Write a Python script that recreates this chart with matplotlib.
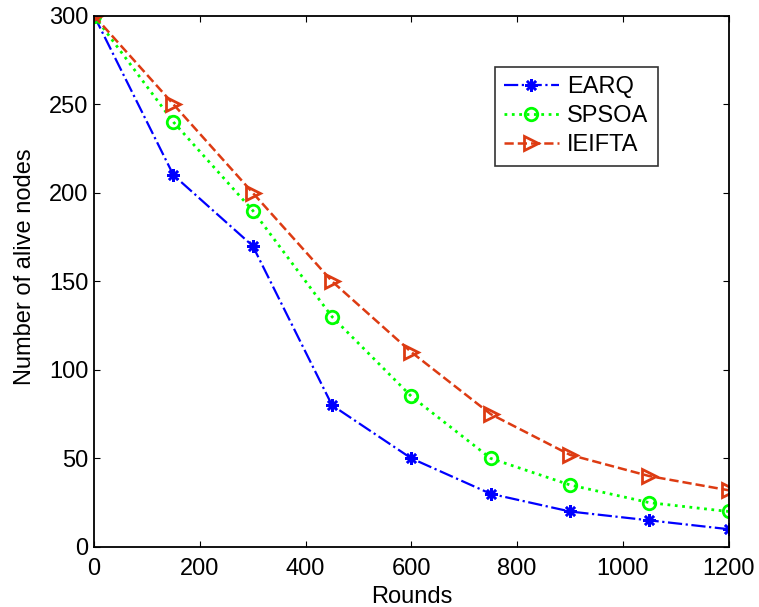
import matplotlib
matplotlib.use("Agg")
import matplotlib.pyplot as plt

rounds = [0, 150, 300, 450, 600, 750, 900, 1050, 1200]
earq = [300, 210, 170, 80, 50, 30, 20, 15, 10]
spsoa = [300, 240, 190, 130, 85, 50, 35, 25, 20]
ieifta = [300, 250, 200, 150, 110, 75, 52, 40, 32]
xticks = [0, 200, 400, 600, 800, 1000, 1200]
yticks = [0, 50, 100, 150, 200, 250, 300]

plt.rcParams['font.family'] = ['Liberation Sans', 'DejaVu Sans']
fig = plt.figure(figsize=(7.59, 6.07), dpi=100)
ax = fig.add_axes([0.124, 0.099, 0.836, 0.875])

ax.plot(rounds, earq, color='#0000ff', linestyle='-.', linewidth=1.6,
        marker=(8, 2, 0), markersize=9, markeredgewidth=1.8, label='EARQ')
ax.plot(rounds, spsoa, color='#00ff00', linestyle=':', linewidth=2,
        marker='o', markersize=9, markerfacecolor='none', markeredgewidth=2, label='SPSOA')
ax.plot(rounds, ieifta, color='#dd3b12', linestyle='--', linewidth=1.8,
        marker='>', markersize=10, markerfacecolor='none', markeredgewidth=2, label='IEIFTA')

ax.set_xlim(0, 1200)
ax.set_ylim(0, 300)
ax.set_xticks(xticks)
ax.set_yticks(yticks)
ax.tick_params(direction='in', top=True, right=True, labelsize=17, length=4, width=0.8)
ax.tick_params(axis='x', pad=8)
ax.tick_params(axis='y', pad=4)
for s in ax.spines.values():
    s.set_linewidth(1.3)
ax.set_xlabel('Rounds', fontsize=17, labelpad=4)
ax.set_ylabel('Number of alive nodes', fontsize=17)
ax.yaxis.set_label_coords(-0.0915, 0.527)

leg = ax.legend(loc='upper right', bbox_to_anchor=(0.888, 0.904), borderaxespad=0,
                fontsize=17, frameon=True, fancybox=False, edgecolor='black',
                handlelength=2.3, handletextpad=0.35, borderpad=0.4, labelspacing=0.3)
leg.get_frame().set_linewidth(1.2)

fig.savefig('out.png', dpi=100)
